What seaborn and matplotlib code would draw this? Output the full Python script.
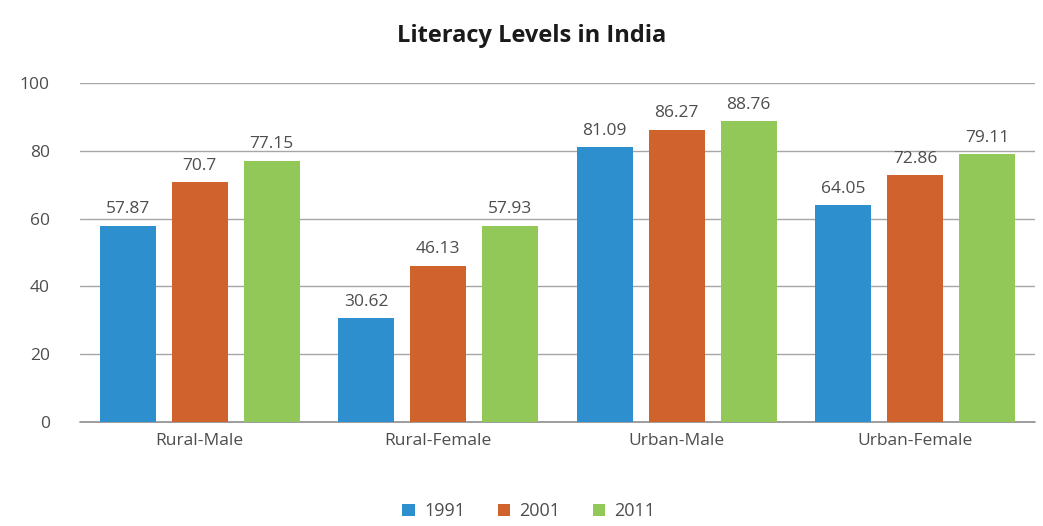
import pandas as pd
import matplotlib
matplotlib.use("Agg")
import matplotlib.pyplot as plt
import seaborn as sns

# ==========================================
# DATA
# ==========================================

categories = ["Rural-Male", "Rural-Female", "Urban-Male", "Urban-Female"]
years = ["1991", "2001", "2011"]

values_1991 = [57.87, 30.62, 81.09, 64.05]
values_2001 = [70.7, 46.13, 86.27, 72.86]
values_2011 = [77.15, 57.93, 88.76, 79.11]

label_text = {
    "1991": ["57.87", "30.62", "81.09", "64.05"],
    "2001": ["70.7", "46.13", "86.27", "72.86"],
    "2011": ["77.15", "57.93", "88.76", "79.11"],
}

colors = ["#2E8FCF", "#D0622E", "#92C857"]

df = pd.DataFrame(
    {
        "Category": categories * 3,
        "Year": [years[0]] * 4 + [years[1]] * 4 + [years[2]] * 4,
        "Literacy": values_1991 + values_2001 + values_2011,
    }
)

# ==========================================
# PLOT
# ==========================================

sns.set_style("white")
plt.rcParams["font.family"] = ["Open Sans", "DejaVu Sans"]

fig = plt.figure(figsize=(10.43, 5.26), dpi=100)
ax = fig.add_axes([0.077, 0.198, 0.915, 0.644])

sns.barplot(
    data=df,
    x="Category",
    y="Literacy",
    hue="Year",
    palette=colors,
    saturation=1,
    width=0.905,
    gap=0.22,
    linewidth=0,
    ax=ax,
)

for container, yr in zip(ax.containers, years):
    ax.bar_label(
        container,
        labels=label_text[yr],
        padding=6,
        fontsize=12.5,
        color="#4d4d4d",
    )

ax.set_ylim(0, 100)
ax.set_yticks([0, 20, 40, 60, 80, 100])
ax.yaxis.grid(True, color="#A6A6A6", linewidth=1)
ax.set_axisbelow(True)
ax.axhline(0, color="#8c8c8c", linewidth=1.2, clip_on=False, zorder=0.5)
ax.set_xlabel("")
ax.set_ylabel("")
ax.tick_params(axis="both", length=0, labelsize=12.5, labelcolor="#4d4d4d")
ax.tick_params(axis="x", pad=8)
ax.tick_params(axis="y", pad=22)
for s in ax.spines.values():
    s.set_visible(False)

fig.suptitle(
    "Literacy Levels in India",
    x=0.51,
    y=0.955,
    fontsize=17,
    fontweight="bold",
    color="#1a1a1a",
)

ax.legend(
    loc="upper center",
    bbox_to_anchor=(0.47, -0.19),
    ncol=3,
    frameon=False,
    fontsize=13,
    handlelength=0.7,
    handleheight=0.7,
    handletextpad=0.5,
    columnspacing=1.8,
    labelcolor="#4d4d4d",
)

plt.savefig("out.png", dpi=100)
